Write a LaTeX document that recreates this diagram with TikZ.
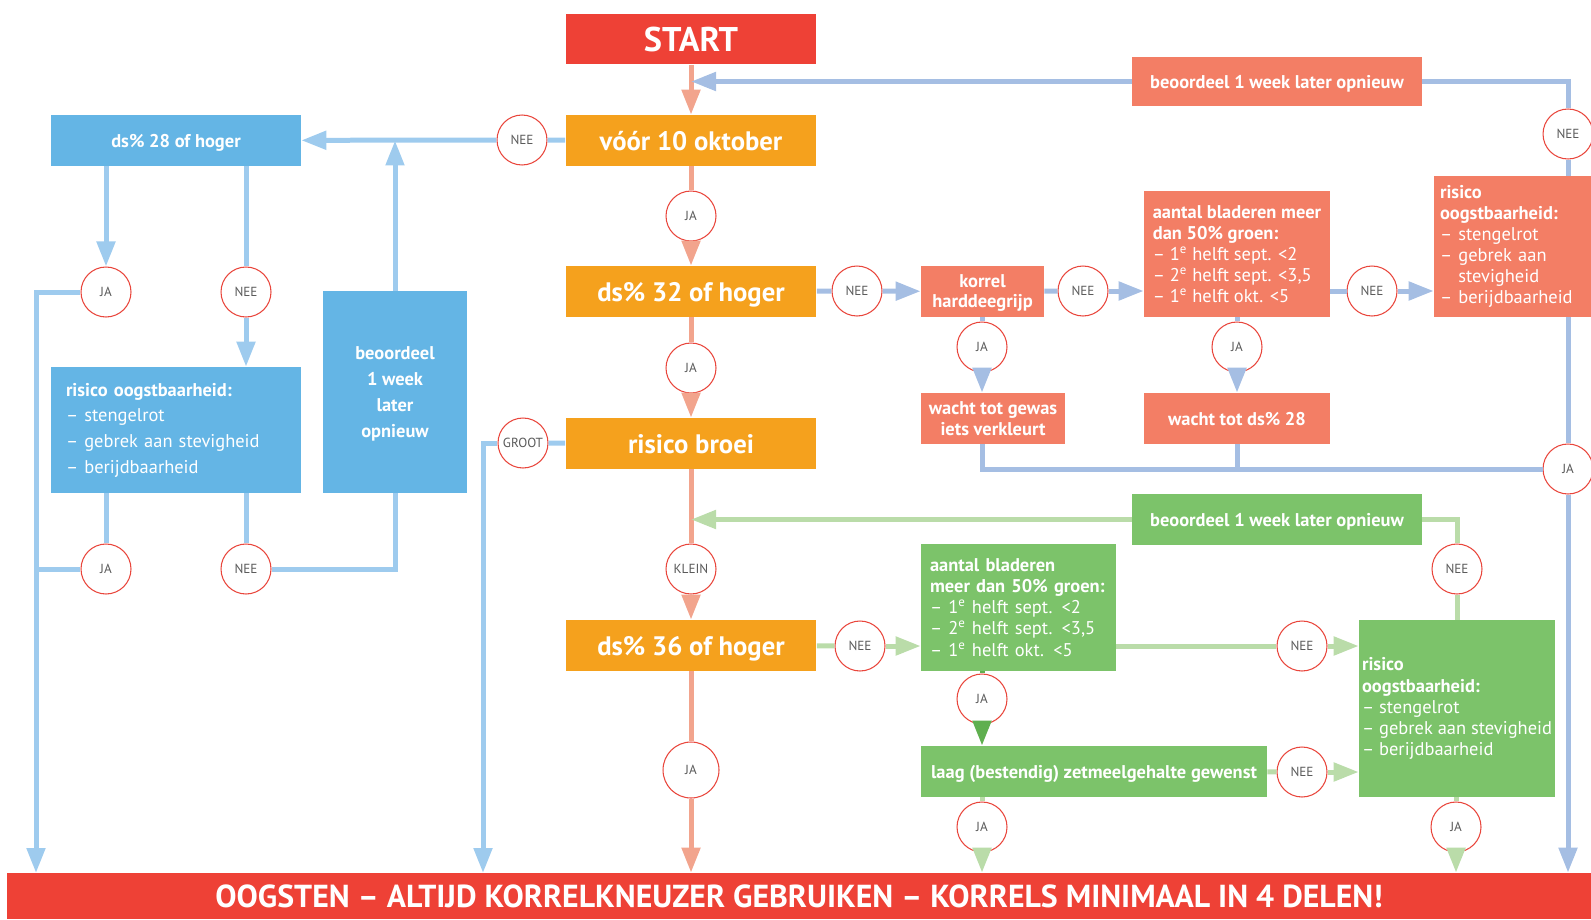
\documentclass[tikz,border=0pt]{standalone}
\usepackage{fontspec}
\setmainfont{PT Sans}
\usetikzlibrary{positioning}
\usetikzlibrary{arrows.meta}
\usetikzlibrary{calc}
\definecolor{startred}{HTML}{EE4136}
\definecolor{boxorange}{HTML}{F5A11D}
\definecolor{salmon}{HTML}{F37E65}
\definecolor{skyblue}{HTML}{64B5E5}
\definecolor{leafgreen}{HTML}{7CC36A}
\definecolor{midcol}{HTML}{F2A48D}
\definecolor{skycol}{HTML}{9ECBEE}
\definecolor{bluecol}{HTML}{A5BEE3}
\definecolor{greencol}{HTML}{BADCA9}
\definecolor{darkgreencol}{HTML}{5FAF4F}
\definecolor{ringred}{HTML}{E9463C}
\definecolor{ringgray}{HTML}{5A5A5A}
\tikzset{
    plainbox/.style={inner sep=0pt, text depth=0pt, text=white, align=center, font=\bfseries\fontsize{10.5}{12}\selectfont},
    bigbox/.style={plainbox, fill=boxorange, minimum width=5.02cm, minimum height=1.02cm, font=\bfseries\fontsize{15.2}{17}\selectfont},
    listbox/.style={inner ysep=0pt, text=white, align=left, font=\fontsize{10.5}{12}\selectfont},
    ring/.style={circle, draw=ringred, line width=0.6pt, fill=white, minimum size=1cm, inner sep=0pt, text=ringgray, font=\fontsize{7.5}{8}\selectfont},
    link/.style={line width=1mm},
    flow/.style={link, -{Triangle[length=0.5cm, width=0.36cm]}},
    midline/.style={link, draw=midcol},
    skyline/.style={link, draw=skycol},
    blueline/.style={link, draw=bluecol},
    greenline/.style={link, draw=greencol},
    darkline/.style={link, draw=darkgreencol},
}
\begin{document}
\begin{tikzpicture}[x=0.02cm, y=-0.02cm]
    \useasboundingbox (0,0) rectangle (1591,919);

    % middle column
    \node (start) [bigbox, fill=startred, font=\bfseries\fontsize{19.5}{22}\selectfont] at (691,39) {START};
    \node (voor) [bigbox] at (691,140.5) {vóór 10 oktober};
    \node (ja1) [ring] at (691,216) {JA};
    \node (ds32) [bigbox] at (691,291.5) {ds\% 32 of hoger};
    \node (ja2) [ring] at (691,368) {JA};
    \node (broei) [bigbox] at (691,443.5) {risico broei};
    \node (klein) [ring] at (691,569) {KLEIN};
    \node (ds36) [bigbox] at (691,645.5) {ds\% 36 of hoger};
    \node (ja3) [ring, minimum size=1.12cm] at (691,770) {JA};
    \node (oogsten) [plainbox, fill=startred, minimum width=31.68cm, minimum height=0.92cm, font=\bfseries\fontsize{18.1}{20}\selectfont] at (799,896) {OOGSTEN – ALTIJD KORRELKNEUZER GEBRUIKEN – KORRELS MINIMAAL IN 4 DELEN!};

    % blue part on the left
    \node (nee0) [ring] at (522,140) {NEE};
    \node (ds28) [plainbox, fill=skyblue, minimum width=5cm, minimum height=1.02cm] at (176,140.5) {ds\% 28 of hoger};
    \node (jaL1) [ring] at (106,292) {JA};
    \node (neeL1) [ring] at (246,292) {NEE};
    \node (risL) [listbox, fill=skyblue, text width=4.4cm, inner xsep=0.3cm, minimum height=2.52cm, font=\fontsize{10.5}{14.6}\selectfont] at (176,430) {\textbf{risico oogstbaarheid:}\\– stengelrot\\– gebrek aan stevigheid\\– berijdbaarheid};
    \node (jaL2) [ring] at (106,569) {JA};
    \node (neeL2) [ring] at (246,569) {NEE};
    \node (beoL) [plainbox, fill=skyblue, minimum width=2.88cm, minimum height=4.04cm, font=\bfseries\fontsize{10.5}{14.8}\selectfont] at (395,392) {beoordeel\\1 week\\later\\opnieuw};
    \node (groot) [ring] at (523,443) {GROOT};
    \coordinate (leftend) at (36,873);
    \coordinate (grootend) at (483,873);

    % salmon part on the right
    \node (beoS) [plainbox, fill=salmon, minimum width=5.8cm, minimum height=1cm] at (1277,81.5) {beoordeel 1 week later opnieuw};
    \node (neeR0) [ring] at (1568,134) {NEE};
    \node (neeK) [ring] at (857,291) {NEE};
    \node (korrel) [plainbox, fill=salmon, minimum width=2.46cm, minimum height=1.02cm, font=\bfseries\fontsize{10.5}{11.4}\selectfont] at (982.5,291.5) {korrel\\harddeegrijp};
    \node (neeA) [ring] at (1083,291) {NEE};
    \node (aantalS) [listbox, fill=salmon, inner xsep=0pt, minimum width=3.72cm, minimum height=2.52cm] at (1237,254) {\textbf{aantal bladeren meer}\\\textbf{dan 50\% groen:}\\– 1\textsuperscript{e} helft sept. <2\\– 2\textsuperscript{e} helft sept. <3,5\\– 1\textsuperscript{e} helft okt. <5};
    \node (neeB) [ring] at (1372,291) {NEE};
    \node (risS) [listbox, fill=salmon, text width=3.08cm, inner xsep=0.12cm, minimum height=2.82cm] at (1517,246.5) {\textbf{risico}\\\textbf{oogstbaarheid:}\\– stengelrot\\– gebrek aan\\\phantom{–~}stevigheid\\– berijdbaarheid};
    \node (jaK) [ring] at (982,347) {JA};
    \node (wachtG) [plainbox, fill=salmon, minimum width=2.88cm, minimum height=1.02cm] at (993,418.5) {wacht tot gewas\\iets verkleurt};
    \node (jaA) [ring] at (1237,347) {JA};
    \node (wacht28) [plainbox, fill=salmon, minimum width=3.72cm, minimum height=1.02cm] at (1237,418.5) {wacht tot ds\% 28};
    \node (jaR) [ring] at (1568,469) {JA};

    % green part
    \node (beoG) [plainbox, fill=leafgreen, minimum width=5.8cm, minimum height=1.02cm] at (1277,519.5) {beoordeel 1 week later opnieuw};
    \node (neeG0) [ring] at (1457,569) {NEE};
    \node (neeD) [ring] at (860,646) {NEE};
    \node (aantalG) [listbox, fill=leafgreen, text width=3.54cm, inner xsep=0.18cm, minimum height=2.54cm] at (1018.5,607.5) {\textbf{aantal bladeren}\\\textbf{meer dan 50\% groen:}\\– 1\textsuperscript{e} helft sept. <2\\– 2\textsuperscript{e} helft sept. <3,5\\– 1\textsuperscript{e} helft okt. <5};
    \node (neeE) [ring] at (1302,646) {NEE};
    \node (risG) [listbox, fill=leafgreen, inner xsep=0pt, minimum width=3.92cm, minimum height=3.54cm] at (1457,708.5) {\textbf{risico}\\\textbf{oogstbaarheid:}\\– stengelrot\\– gebrek aan stevigheid\\– berijdbaarheid};
    \node (jaG1) [ring] at (982,699) {JA};
    \node (laag) [plainbox, fill=leafgreen, minimum width=6.92cm, minimum height=1.02cm] at (1094,771.5) {laag (bestendig) zetmeelgehalte gewenst};
    \node (neeF) [ring] at (1302,772) {NEE};
    \node (jaG2) [ring] at (982,827) {JA};
    \node (jaG3) [ring] at (1456,827) {JA};

    \draw[midline, flow] (start) -- (voor);
    \draw[midline] (voor) -- (ja1);
    \draw[midline, flow] (ja1) -- (ds32);
    \draw[midline] (ds32) -- (ja2);
    \draw[midline, flow] (ja2) -- (broei);
    \draw[midline] (broei) -- (klein);
    \draw[midline, flow] (klein) -- (ds36);
    \draw[midline] (ds36) -- (ja3);
    \draw[midline, flow] (ja3) -- (ja3 |- oogsten.north);

    \draw[skyline] (voor) -- (nee0);
    \draw[skyline, flow] (nee0) -- (ds28);
    \draw[skyline, flow] (beoL) -- (beoL |- ds28);
    \draw[skyline, flow] (jaL1 |- ds28.south) -- (jaL1);
    \draw[skyline] (neeL1 |- ds28.south) -- (neeL1);
    \draw[skyline, flow] (jaL1) -| (leftend);
    \draw[skyline, flow] (neeL1) -- (neeL1 |- risL.north);
    \draw[skyline] (jaL2 |- risL.south) -- (jaL2);
    \draw[skyline] (neeL2 |- risL.south) -- (neeL2);
    \draw[skyline] (jaL2) -- (jaL2 -| leftend);
    \draw[skyline] (neeL2) -| (beoL);
    \draw[skyline] (broei) -- (groot);
    \draw[skyline, flow] (groot) -| (grootend);

    \draw[blueline] (ds32) -- (neeK);
    \draw[blueline, flow] (neeK) -- (korrel);
    \draw[blueline] (korrel) -- (neeA);
    \draw[blueline, flow] (neeA) -- (neeA -| aantalS.west);
    \draw[blueline] (neeB -| aantalS.east) -- (neeB);
    \draw[blueline, flow] (neeB) -- (neeB -| risS.west);
    \draw[blueline] (neeR0 |- risS.north) -- (neeR0);
    \draw[blueline] (neeR0) |- (beoS);
    \draw[blueline, flow] (beoS.west) -- (beoS.west -| start);
    \draw[blueline] (korrel.south -| jaK) -- (jaK);
    \draw[blueline, flow] (jaK) -- (jaK |- wachtG.north);
    \draw[blueline] (jaA |- aantalS.south) -- (jaA);
    \draw[blueline, flow] (jaA) -- (wacht28);
    \draw[blueline] (jaK |- wachtG.south) |- (jaR);
    \draw[blueline] (wacht28) -- (wacht28 |- jaR);
    \draw[blueline] (neeR0 |- risS.south) -- (jaR);
    \draw[blueline, flow] (jaR) -- (jaR |- oogsten.north);

    \draw[greenline] (ds36) -- (neeD);
    \draw[greenline, flow] (neeD) -- (neeD -| aantalG.west);
    \draw[greenline] (neeE -| aantalG.east) -- (neeE);
    \draw[greenline, flow] (neeE) -- (neeE -| risG.west);
    \draw[darkline] (jaG1 |- aantalG.south) -- (jaG1);
    \draw[darkline, flow] (jaG1) -- (jaG1 |- laag.north);
    \draw[greenline] (laag) -- (neeF);
    \draw[greenline, flow] (neeF) -- (neeF -| risG.west);
    \draw[greenline] (jaG2 |- laag.south) -- (jaG2);
    \draw[greenline, flow] (jaG2) -- (jaG2 |- oogsten.north);
    \draw[greenline] (jaG3 |- risG.south) -- (jaG3);
    \draw[greenline, flow] (jaG3) -- (jaG3 |- oogsten.north);
    \draw[greenline] (neeG0 |- risG.north) -- (neeG0);
    \draw[greenline] (neeG0) |- (beoG);
    \draw[greenline, flow] (beoG.west) -- (beoG.west -| broei);
\end{tikzpicture}
\end{document}
